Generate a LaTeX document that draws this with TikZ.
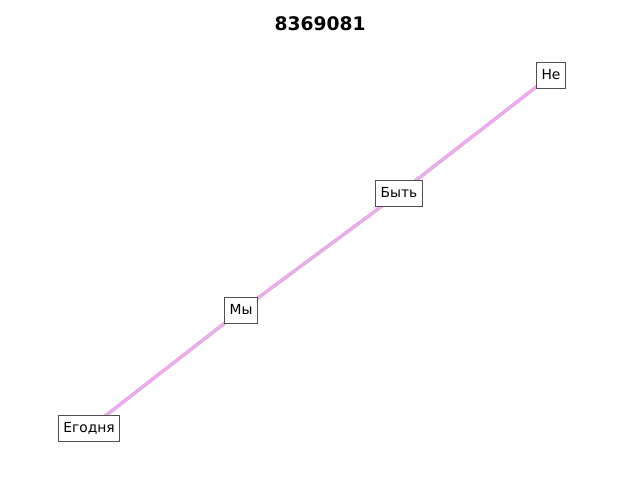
\documentclass[tikz,border=0pt]{standalone}
\usepackage{fontspec}
\setmainfont{DejaVu Sans}
\usetikzlibrary{backgrounds}
\definecolor{edgepink}{RGB}{234,172,234}
\definecolor{boxgrey}{RGB}{80,80,80}
\tikzset{
  wordbox/.style={draw=boxgrey, fill=white, line width=0.72pt, inner xsep=3.8pt, inner ysep=0pt,
    minimum height=18.8pt, font=\fontsize{10}{12}\selectfont, text height=7.4pt, text depth=1.8pt},
  link/.style={draw=edgepink, line width=2.6pt},
  titletext/.style={font=\fontsize{13.5}{16}\selectfont\bfseries}
}
\begin{document}
\begin{tikzpicture}[x=0.254mm, y=-0.254mm]
\useasboundingbox (0,0) rectangle (640,480);
\node[titletext] (title) at (320,24) {8369081};
\node[wordbox] (e) at (89,428.5) {Егодня};
\node[wordbox] (my) at (241,310.5) {Мы};
\node[wordbox] (byt) at (399,193.5) {Быть};
\node[wordbox] (ne) at (551,75.5) {Не};
\begin{scope}[on background layer]
\draw[link] (e.center) -- (my.center) -- (byt.center) -- (ne.center);
\end{scope}
\end{tikzpicture}
\end{document}
